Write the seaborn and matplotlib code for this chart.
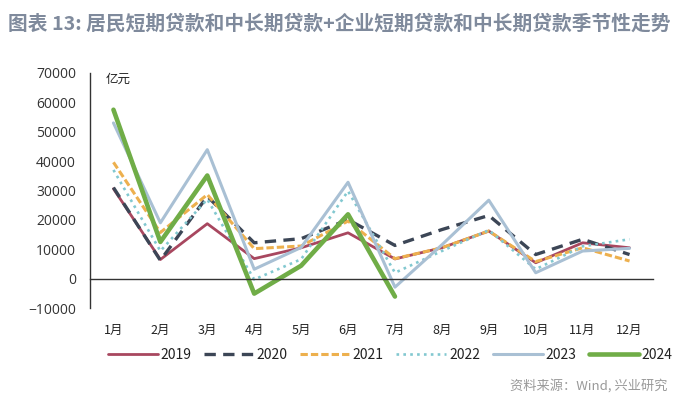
import matplotlib
matplotlib.use("Agg")
import matplotlib.pyplot as plt
import matplotlib.transforms as mtransforms
import numpy as np
import pandas as pd
import seaborn as sns

# monthly new household + corporate short/medium-long loans, 100 million yuan
months = ["1月", "2月", "3月", "4月", "5月", "6月", "7月", "8月", "9月", "10月", "11月", "12月"]
y2019 = [30600, 6500, 18700, 6800, 10500, 15600, 6700, 10500, 16200, 5400, 12200, 10500]
y2020 = [31000, 6200, 28000, 12200, 13600, 20100, 11300, 16700, 21500, 8200, 13400, 8200]
y2021 = [39600, 15700, 28600, 10200, 11100, 19600, 6800, 10500, 16200, 5800, 10500, 6000]
y2022 = [37000, 9400, 27000, -300, 6600, 29800, 2000, 9400, 16500, 3200, 11000, 13400]
y2023 = [53000, 19000, 43900, 3200, 10600, 32800, -2900, 11500, 26700, 2000, 9400, 10300]
y2024 = [57500, 12500, 35100, -5100, 4400, 21900, -6100]

series = {
    "2019": y2019, "2020": y2020, "2021": y2021,
    "2022": y2022, "2023": y2023, "2024": y2024,
}
styles = {
    "2019": dict(color="#A8475F", lw=2.0, ls="-"),
    "2020": dict(color="#3C4656", lw=2.4, ls=(0, (3.4, 2.2))),
    "2021": dict(color="#EDB04E", lw=2.2, ls=(0, (2.4, 1.0))),
    "2022": dict(color="#82C8D0", lw=1.9, ls=(0, (1.0, 1.6))),
    "2023": dict(color="#A9C0D4", lw=2.2, ls="-"),
    "2024": dict(color="#70AD47", lw=3.3, ls="-"),
}

sns.set_style("white")
plt.rcParams["font.family"] = ["Noto Sans CJK SC", "DejaVu Sans"]

fig = plt.figure(figsize=(7, 4.15), dpi=100)
ax = fig.add_axes([90 / 700, 1 - 308 / 415, 563 / 700, 235 / 415])

for year, vals in series.items():
    df = pd.DataFrame({"month": np.arange(1, len(vals) + 1), "value": vals})
    st = styles[year]
    sns.lineplot(data=df, x="month", y="value", ax=ax, color=st["color"],
                 linewidth=st["lw"], linestyle=st["ls"], label=year)

ax.set_xlim(0.5, 12.5)
ax.set_ylim(-10000, 70000)
ax.set_yticks(np.arange(-10000, 70001, 10000))
ax.set_xticks(np.arange(0.5, 12.6, 1))
ax.set_xticklabels([])
ax.set_xlabel("")
ax.set_ylabel("")

for s in ["top", "right"]:
    ax.spines[s].set_visible(False)
ax.spines["bottom"].set_position(("data", 0))
ax.spines["bottom"].set_color("#333333")
ax.spines["bottom"].set_linewidth(1.0)
ax.spines["left"].set_color("#333333")
ax.spines["left"].set_linewidth(1.0)
ax.tick_params(axis="x", direction="out", length=4, width=1, color="#333333")
ax.tick_params(axis="y", direction="out", length=4, width=1, color="#333333",
               labelsize=10, labelcolor="#333333", pad=6)
for lab in ax.get_yticklabels():
    lab.set_family(["Open Sans", "DejaVu Sans"])

trans = mtransforms.blended_transform_factory(ax.transData, ax.transAxes)
for i, m in enumerate(months):
    ax.text(i + 1, -0.095, m, transform=trans, ha="center", va="center",
            fontsize=9, color="#222222")

ax.text(0.027, 0.975, "亿元", transform=ax.transAxes, ha="left", va="center",
        fontsize=9, color="#222222")

ax.get_legend().remove()
handles, labels = ax.get_legend_handles_labels()
fig.legend(handles, labels, loc="center", bbox_to_anchor=(390 / 700, 1 - 355 / 415),
           ncol=6, frameon=False, fontsize=10, handlelength=3.6,
           handletextpad=0.2, columnspacing=0.9, labelcolor="#222222")

fig.text(8 / 700, 1 - 24 / 415,
         "图表 13: 居民短期贷款和中长期贷款+企业短期贷款和中长期贷款季节性走势",
         ha="left", va="center", fontsize=14.2, fontweight="bold", color="#7F8A9C")
fig.text(668 / 700, 1 - 386 / 415, "资料来源：Wind, 兴业研究",
         ha="right", va="center", fontsize=9.5, color="#9A9A9A")

fig.savefig("out.png", dpi=100)
